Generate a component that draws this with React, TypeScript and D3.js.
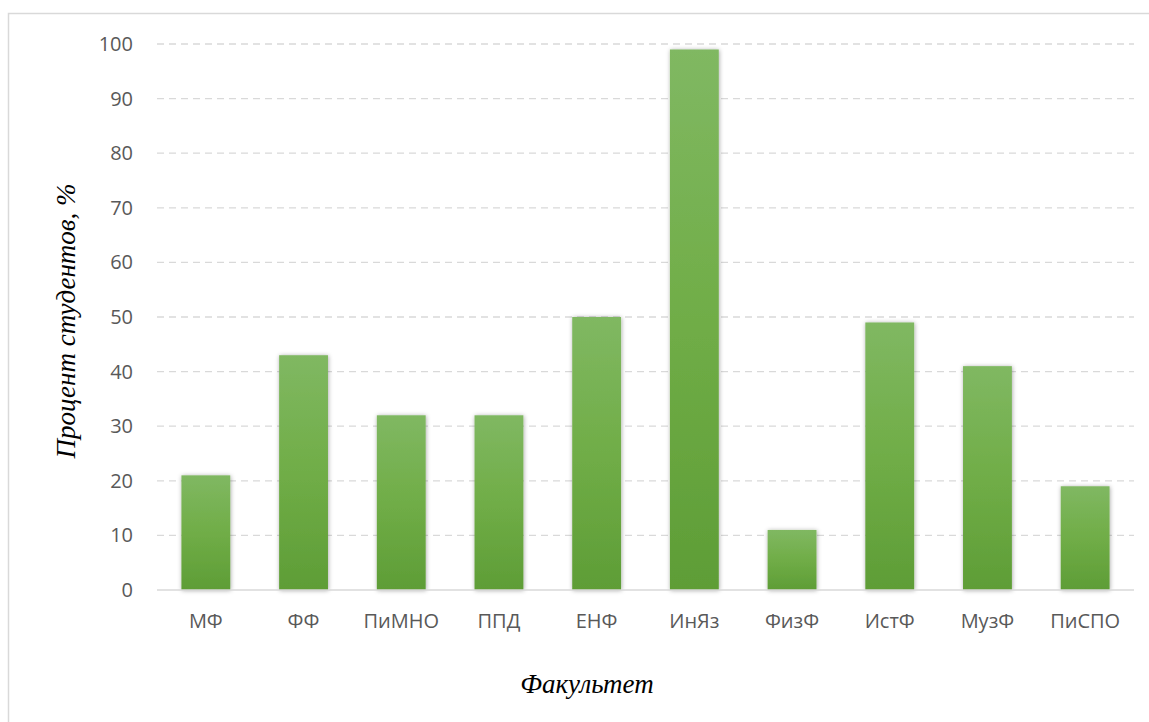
import React from "react";
import * as d3 from "d3";

const categories = ["МФ", "ФФ", "ПиМНО", "ППД", "ЕНФ", "ИнЯз", "ФизФ", "ИстФ", "МузФ", "ПиСПО"];
const values = [21, 43, 32, 32, 50, 99, 11, 49, 41, 19];
const yTicks = [0, 10, 20, 30, 40, 50, 60, 70, 80, 90, 100];
const yTitle = "Процент студентов, %";
const xTitle = "Факультет";

const W = 1149;
const H = 722;
const left = 157;
const right = 1134;
const top = 44;
const bottom = 590;

export default function App() {
  const x = d3.scaleBand<string>().domain(categories).range([left, right]).paddingInner(0.5).paddingOuter(0.25);
  const y = d3.scaleLinear().domain([0, 100]).range([bottom, top]);
  const sans = "'Open Sans', 'Noto Sans', sans-serif";
  const serif = "'Liberation Serif', 'DejaVu Serif', serif";
  return (
    <svg width={W} height={H} style={{ position: "absolute", left: 0, top: 0, display: "block" }}>
      <defs>
        <linearGradient id="barGrad" x1="0" y1="0" x2="0" y2="1">
          <stop offset="0" stopColor="#80b862" />
          <stop offset="0.5" stopColor="#70ad47" />
          <stop offset="1" stopColor="#5e9d36" />
        </linearGradient>
        <filter id="shadow" x="-30%" y="-10%" width="160%" height="120%">
          <feDropShadow dx="0.5" dy="0.5" stdDeviation="2" floodColor="#000" floodOpacity="0.35" />
        </filter>
      </defs>
      <rect x={0} y={0} width={W} height={H} fill="#fff" />
      <rect x={8.5} y={13.5} width={1300} height={900} fill="none" stroke="#d9d9d9" strokeWidth={1.5} />
      {yTicks.filter((t) => t > 0).map((t) => (
        <line key={"g" + t} x1={left} x2={right} y1={y(t)} y2={y(t)} stroke="#d9d9d9" strokeWidth={1.3} strokeDasharray="7 5" />
      ))}
      {categories.map((c, i) => (
        <rect
          key={c}
          x={x(c)}
          y={y(values[i])}
          width={x.bandwidth()}
          height={bottom - y(values[i])}
          fill="url(#barGrad)"
          filter="url(#shadow)"
        />
      ))}
      <line x1={left} x2={right} y1={bottom} y2={bottom} stroke="#d9d9d9" strokeWidth={1.5} />
      {yTicks.map((t) => (
        <text key={"t" + t} x={133} y={y(t)} dy="0.35em" textAnchor="end" fontFamily={sans} fontSize={20} fill="#595959">
          {t}
        </text>
      ))}
      {categories.map((c) => (
        <text key={"l" + c} x={(x(c) as number) + x.bandwidth() / 2} y={628} textAnchor="middle" fontFamily={sans} fontSize={20} fill="#595959">
          {c}
        </text>
      ))}
      <text
        transform={`translate(75, 321) rotate(-90)`}
        textAnchor="middle"
        fontFamily={serif}
        fontStyle="italic"
        fontSize={27}
        fill="#000"
      >
        {yTitle}
      </text>
      <text x={587} y={693} textAnchor="middle" fontFamily={serif} fontStyle="italic" fontSize={27} fill="#000">
        {xTitle}
      </text>
    </svg>
  );
}
